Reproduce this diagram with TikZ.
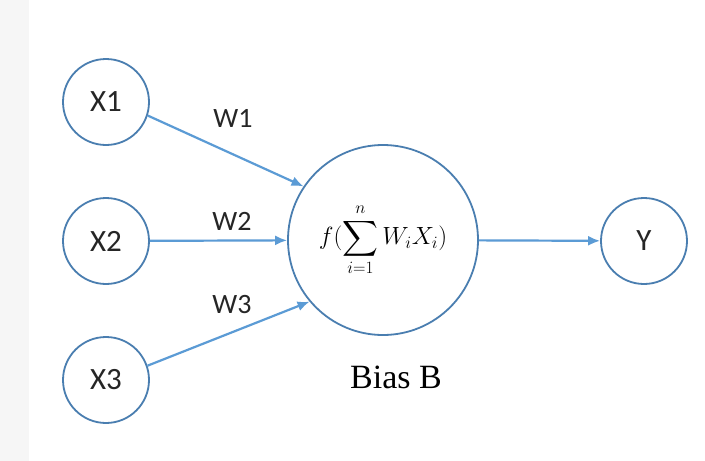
\documentclass[tikz,border=0pt]{standalone}
\usepackage{exscale}
\usepackage{fontspec}
\setsansfont{Carlito}
\setmainfont{Liberation Serif}
\usetikzlibrary{arrows.meta}
\definecolor{ringblue}{HTML}{4A7EB0}
\definecolor{arrowblue}{HTML}{5B9BD5}
\definecolor{labelgray}{HTML}{262626}
\definecolor{stripgray}{HTML}{F6F6F6}
\tikzset{
  neuron/.style={circle, draw=ringblue, line width=1.8pt, fill=white,
    text=labelgray, font=\sffamily\fontsize{31}{36}\selectfont, inner sep=0pt},
  smallneuron/.style={neuron, minimum size=86pt},
  bigneuron/.style={neuron, minimum size=190pt, text=black,
    font=\fontsize{26}{31}\selectfont},
  weight/.style={text=labelgray, font=\sffamily\fontsize{28}{32}\selectfont, inner sep=0pt},
  link/.style={draw=arrowblue, line width=2.2pt,
    -{Latex[length=12pt,width=10pt]}},
}
\begin{document}
\begin{tikzpicture}[x=1pt,y=-1pt]
  % page and grey strip on the left
  \fill[white] (0,0) rectangle (705,461);
  \fill[stripgray] (0,0) rectangle (29,461);
  \useasboundingbox (0,0) rectangle (705,461);

  % inputs, summing unit with its activation formula, and output
  \node[smallneuron] (x1) at (106,102) {X1};
  \node[smallneuron] (x2) at (106,241) {X2};
  \node[smallneuron] (x3) at (106,380) {X3};
  \node[bigneuron] (f) at (383,240)
    {$\displaystyle f(\sum_{i=1}^{n} W_i X_i)$};
  \node[smallneuron] (y) at (644,241) {Y};

  % weighted connections
  \draw[link] (x1.-18) -- (f.146);
  \draw[link] (x2) -- (f);
  \draw[link] (x3.19) -- (f.-140);
  \draw[link] (f) -- (y);

  % weight labels
  \node[weight] (w1) at (233,118) {W1};
  \node[weight] (w2) at (232,221) {W2};
  \node[weight] (w3) at (232,305) {W3};

  % bias caption
  \node[text=black, font=\rmfamily\fontsize{34}{40}\selectfont] (bias) at (396,377) {Bias B};
\end{tikzpicture}
\end{document}
